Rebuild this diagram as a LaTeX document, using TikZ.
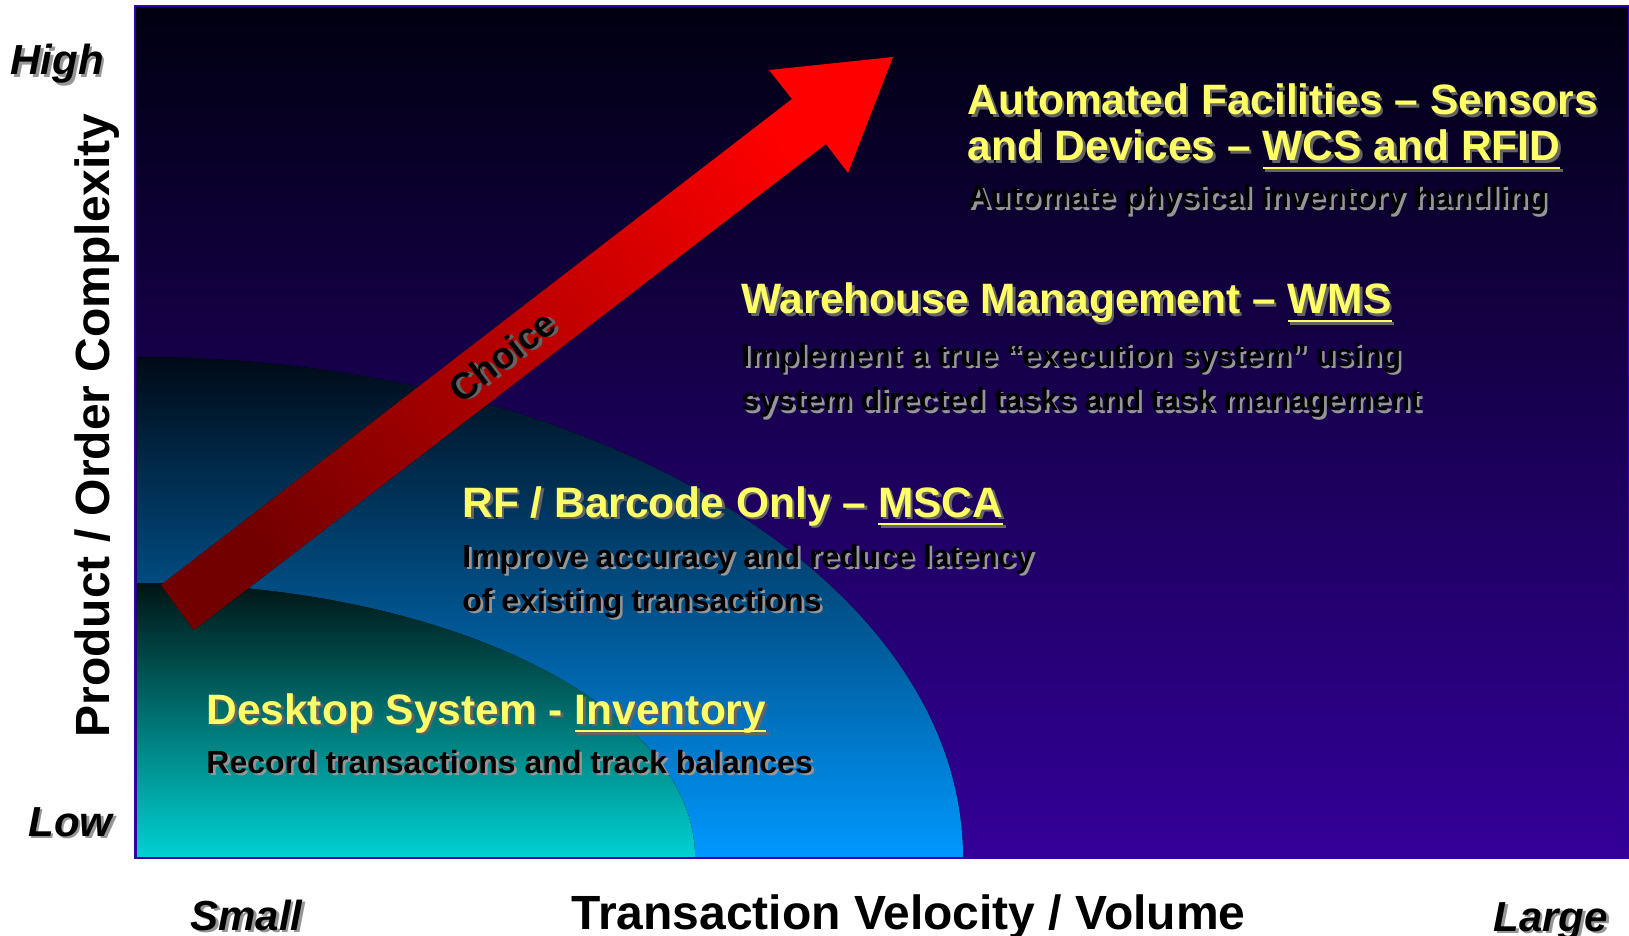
\documentclass[tikz,border=0pt]{standalone}
\usepackage{fontspec}
\setmainfont{Liberation Sans}

\definecolor{bgtop}{RGB}{0,0,16}
\definecolor{bgbottom}{RGB}{51,0,153}
\definecolor{paneledge}{RGB}{51,0,170}
\definecolor{mscatop}{RGB}{0,10,22}
\definecolor{mscabottom}{RGB}{0,153,255}
\definecolor{desktop}{RGB}{0,20,20}
\definecolor{deskbottom}{RGB}{0,210,210}
\definecolor{arrowtail}{RGB}{115,0,0}
\definecolor{arrowhead}{RGB}{255,0,0}
\definecolor{hiyellow}{RGB}{255,255,102}
\definecolor{shadowdark}{RGB}{100,100,100}
\definecolor{shadowlight}{RGB}{150,150,150}

\newcommand{\shadowtext}[3]{\rlap{\hspace{1.3pt}\raisebox{-1.3pt}{\color{#2}#3}}{\color{#1}#3}}
\newcommand{\headtext}[1]{\shadowtext{hiyellow}{shadowdark}{#1}}
\newcommand{\subtext}[1]{\shadowtext{black}{shadowlight}{#1}}
\newcommand{\ulword}[1]{\setbox0\hbox{#1}\rlap{\rule[-4.2pt]{\wd0}{1.4pt}}\box0}

\tikzset{
headline/.style={anchor=base west,inner sep=0pt,
  font={\fontsize{21.25}{24}\selectfont\bfseries}},
subline/.style={anchor=base west,inner sep=0pt,
  font={\fontsize{16}{19}\selectfont\bfseries}},
axislabel/.style={anchor=base west,inner sep=0pt,
  font={\fontsize{24}{28}\selectfont\bfseries}},
endlabel/.style={anchor=base west,inner sep=0pt,
  font={\fontsize{21}{25}\selectfont\bfseries\itshape}},
choicelabel/.style={inner sep=0pt,rotate=37.6,
  font={\fontsize{18.5}{21}\selectfont\bfseries}}
}

\begin{document}
\begin{tikzpicture}[x=0.5pt,y=-0.5pt]
\useasboundingbox (0,0) rectangle (1629,936);
\fill[top color=bgtop,bottom color=bgbottom] (135,6) rectangle (1629,858);
\fill[top color=mscatop,bottom color=mscabottom] (137,858) -- (137,357)
  .. controls (593,357) and (963,581) .. (963,858) -- cycle;
\fill[top color=desktop,bottom color=deskbottom] (137,858) -- (137,583)
  .. controls (445,583) and (695,706) .. (695,858) -- cycle;
\draw[paneledge,line width=0.6pt] (135,6) rectangle (1629,858);
\fill[bottom color=arrowtail,top color=arrowhead,shading angle=-52.4]
  (161,585) -- (792,99) -- (769,70) -- (893,57) -- (848,173) -- (826,144)
  -- (194,630) -- cycle;
\node[choicelabel] (choice) at (503,357) {\shadowtext{black}{shadowdark}{Choice}};

\node[headline] (autoA) at (967,115) {\headtext{Automated Facilities – Sensors}};
\node[headline] (autoB) at (967,161) {\headtext{and Devices – \ulword{WCS and RFID}}};
\node[subline] (autoC) at (967,208) {\subtext{Automate physical inventory handling}};

\node[headline] (wmsA) at (741,314) {\headtext{Warehouse Management – \ulword{WMS}}};
\node[subline] (wmsB) at (741,366) {\subtext{Implement a true “execution system” using}};
\node[subline] (wmsC) at (741,411) {\subtext{system directed tasks and task management}};

\node[headline] (mscaA) at (462,517) {\headtext{RF / Barcode Only – \ulword{MSCA}}};
\node[subline] (mscaB) at (462,567) {\subtext{Improve accuracy and reduce latency}};
\node[subline] (mscaC) at (462,611) {\subtext{of existing transactions}};

\node[headline] (deskA) at (206,724) {\headtext{Desktop System - \ulword{Inventory}}};
\node[subline] (deskB) at (206,773) {\subtext{Record transactions and track balances}};

\node[endlabel] (high) at (10,75) {\shadowtext{black}{shadowlight}{High}};
\node[endlabel] (low) at (28,836) {\shadowtext{black}{shadowlight}{Low}};
\node[endlabel] (small) at (190,930) {\shadowtext{black}{shadowlight}{Small}};
\node[endlabel] (large) at (1493,931) {\shadowtext{black}{shadowlight}{Large}};
\node[axislabel] (xaxis) at (571,929) {Transaction Velocity / Volume};
\node[axislabel,rotate=90] (yaxis) at (109,738) {Product / Order Complexity};
\end{tikzpicture}
\end{document}
